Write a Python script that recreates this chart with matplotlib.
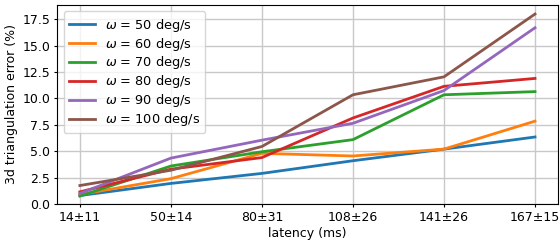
import matplotlib.pyplot as plt
from matplotlib.ticker import MultipleLocator

plt.rcParams["font.size"] = 9

latency = ["14±11", "50±14", "80±31", "108±26", "141±26", "167±15"]
omega = [50, 60, 70, 80, 90, 100]

err_50 = [0.8, 1.95, 2.9, 4.1, 5.2, 6.35]
err_60 = [0.9, 2.4, 4.8, 4.55, 5.2, 7.85]
err_70 = [0.75, 3.6, 4.95, 6.1, 10.35, 10.65]
err_80 = [1.15, 3.3, 4.4, 8.15, 11.15, 11.9]
err_90 = [1.0, 4.35, 6.05, 7.65, 10.75, 16.7]
err_100 = [1.75, 3.2, 5.45, 10.35, 12.05, 18.0]
errors = [err_50, err_60, err_70, err_80, err_90, err_100]

fig = plt.figure(figsize=(5.6, 2.41), dpi=100)
ax = fig.add_axes([0.102, 0.1535, 0.894, 0.826])

x = range(len(latency))
for w, e in zip(omega, errors):
    ax.plot(x, e, linewidth=2, label=r"$\omega$ = %d deg/s" % w)

ax.set_xticks(list(x))
ax.set_xticklabels(latency)
ax.yaxis.set_major_locator(MultipleLocator(2.5))
ax.set_ylim(bottom=0)
ax.tick_params(length=2.5, pad=2.5)
ax.grid(True, linewidth=1, color="#c8c8c8")
ax.set_axisbelow(True)
ax.set_xlabel("latency (ms)", labelpad=2)
ax.set_ylabel("3d triangulation error (%)", labelpad=3)
ax.legend(loc="upper left", fontsize=9.3, labelspacing=0.15)

fig.savefig("out.png", dpi=100)
